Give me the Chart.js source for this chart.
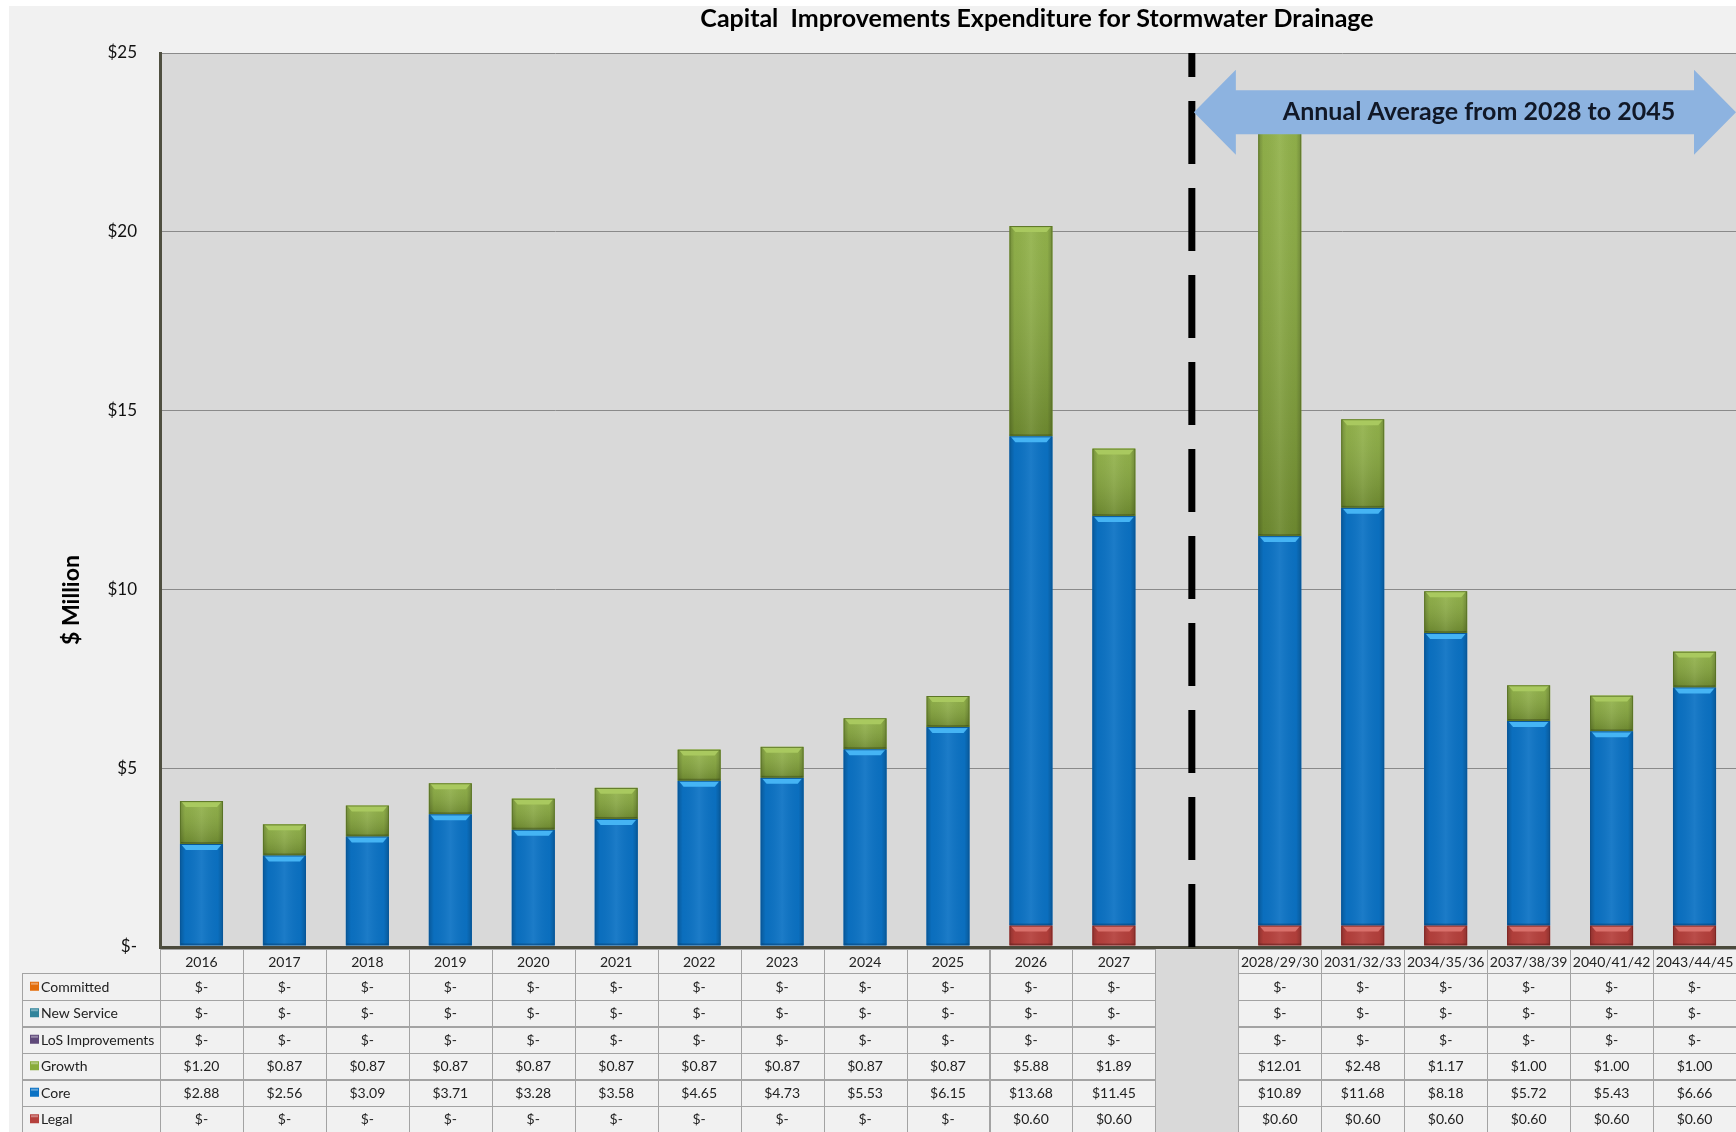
<!DOCTYPE html>
<html>
<head>
<meta charset="utf-8">
<script src="https://cdn.jsdelivr.net/npm/chart.js@4/dist/chart.umd.min.js"></script>
<style>
html,body{margin:0;padding:0;background:#ffffff;}
#c{display:block;}
</style>
</head>
<body>
<canvas id="c" width="1736" height="1132" style="width:1736px;height:1132px"></canvas>
<script>
// ---------------- DATA ----------------
const categories = ['2016','2017','2018','2019','2020','2021','2022','2023','2024','2025','2026','2027','',
  '2028/29/30','2031/32/33','2034/35/36','2037/38/39','2040/41/42','2043/44/45'];
const committed       = [0,0,0,0,0,0,0,0,0,0,0,0,null,0,0,0,0,0,0];
const newService      = [0,0,0,0,0,0,0,0,0,0,0,0,null,0,0,0,0,0,0];
const losImprovements = [0,0,0,0,0,0,0,0,0,0,0,0,null,0,0,0,0,0,0];
const growth = [1.20,0.87,0.87,0.87,0.87,0.87,0.87,0.87,0.87,0.87,5.88,1.89,null,12.01,2.48,1.17,1.00,1.00,1.00];
const core   = [2.88,2.56,3.09,3.71,3.28,3.58,4.65,4.73,5.53,6.15,13.68,11.45,null,10.89,11.68,8.18,5.72,5.43,6.66];
const legal  = [0,0,0,0,0,0,0,0,0,0,0.60,0.60,null,0.60,0.60,0.60,0.60,0.60,0.60];
const yTickValues = [0,5,10,15,20,25];
const gapIndex = 12;
const chartTitle = 'Capital  Improvements Expenditure for Stormwater Drainage';
const yAxisTitle = '$ Million';
const arrowText = 'Annual Average from 2028 to 2045';
const arrowValue = 23.34;   // y value at which the annotation arrow sits

// ---------------- STYLES ----------------
const FONT = 'Lato, "Open Sans", "Liberation Sans", sans-serif';
const colors = {
  'Committed': '#e36c09',
  'New Service': '#31849b',
  'LoS Improvements': '#5f497a',
  'Growth': '#89ac3b',
  'Core': '#0b72c4',
  'Legal': '#b5403c'
};
const shade = {
  'Growth': {bevel:'#a9c95f', edge:'#5a7326', vgrad:true},
  'Core':   {bevel:'#45b4f4', edge:'#08579a', vgrad:false},
  'Legal':  {bevel:'#d9706b', edge:'#7e2624', vgrad:false}
};

function fmt(v){ return (v === 0 || v === null) ? '$-' : '$' + v.toFixed(2); }

// background plugin
const bgPlugin = {
  id:'bgPlugin',
  beforeDraw(chart){
    const {ctx, chartArea:a, width, height} = chart;
    ctx.save();
    ctx.fillStyle = '#ffffff'; ctx.fillRect(0,0,width,height);
    ctx.fillStyle = '#f1f1f1'; ctx.fillRect(9,6,width-9,height-6);
    ctx.fillStyle = '#d9d9d9'; ctx.fillRect(a.left,a.top,a.right-a.left,a.bottom-a.top);
    ctx.restore();
  }
};

// bar shading plugin + dashed divider + arrow
const overlayPlugin = {
  id:'overlayPlugin',
  afterDatasetsDraw(chart){
    const ctx = chart.ctx;
    const a = chart.chartArea;
    chart.data.datasets.forEach((ds, di) => {
      const st = shade[ds.label]; if (!st) return;
      const meta = chart.getDatasetMeta(di);
      meta.data.forEach((bar, i) => {
        const v = ds.data[i]; if (!v) return;
        const p = bar.getProps(['x','y','base','width'], true);
        const l = p.x - p.width/2, r = p.x + p.width/2;
        const t = Math.min(p.y, p.base), b = Math.max(p.y, p.base);
        const h = b - t; if (h < 1) return;
        const w = p.width;
        ctx.save();
        ctx.beginPath(); ctx.rect(l, t, w, h); ctx.clip();
        if (st.vgrad) {
          const vg = ctx.createLinearGradient(0, t, 0, b);
          vg.addColorStop(0, 'rgba(255,255,255,0.08)');
          vg.addColorStop(1, 'rgba(0,0,0,0.20)');
          ctx.fillStyle = vg; ctx.fillRect(l, t, w, h);
        }
        const g = ctx.createLinearGradient(l, 0, r, 0);
        g.addColorStop(0, 'rgba(0,0,0,0.22)');
        g.addColorStop(0.12, 'rgba(0,0,0,0.03)');
        g.addColorStop(0.5, 'rgba(255,255,255,0.07)');
        g.addColorStop(0.88, 'rgba(0,0,0,0.03)');
        g.addColorStop(1, 'rgba(0,0,0,0.22)');
        ctx.fillStyle = g; ctx.fillRect(l, t, w, h);
        const bh = Math.min(6, h/2), inset = 6;
        ctx.fillStyle = st.bevel;
        ctx.beginPath();
        ctx.moveTo(l+1, t); ctx.lineTo(r-1, t); ctx.lineTo(r-inset, t+bh); ctx.lineTo(l+inset, t+bh);
        ctx.closePath(); ctx.fill();
        ctx.fillStyle = 'rgba(0,0,0,0.22)'; ctx.fillRect(l, b-2, w, 2);
        ctx.strokeStyle = st.edge; ctx.lineWidth = 1;
        ctx.strokeRect(l+0.5, t+0.5, w-1, h-1);
        ctx.restore();
      });
    });

    // dashed divider at the gap column
    const xs = chart.scales.x, ys = chart.scales.y;
    const xd = xs.getPixelForValue(gapIndex) - 5;
    ctx.save();
    ctx.strokeStyle = '#000'; ctx.lineWidth = 7;
    ctx.setLineDash([63,24]); ctx.lineDashOffset = 39;
    ctx.beginPath(); ctx.moveTo(xd, a.top); ctx.lineTo(xd, a.bottom); ctx.stroke();
    ctx.restore();

    // double-headed arrow annotation
    const yc = ys.getPixelForValue(arrowValue);
    const headH = 42.5, shaftH = 22, headL = 42;
    const xl = xd + 2, xr = a.right;
    ctx.save();
    ctx.fillStyle = '#8db3e0';
    ctx.beginPath();
    ctx.moveTo(xl, yc);
    ctx.lineTo(xl+headL, yc-headH);
    ctx.lineTo(xl+headL, yc-shaftH);
    ctx.lineTo(xr-headL, yc-shaftH);
    ctx.lineTo(xr-headL, yc-headH);
    ctx.lineTo(xr, yc);
    ctx.lineTo(xr-headL, yc+headH);
    ctx.lineTo(xr-headL, yc+shaftH);
    ctx.lineTo(xl+headL, yc+shaftH);
    ctx.lineTo(xl+headL, yc+headH);
    ctx.closePath(); ctx.fill();
    ctx.fillStyle = '#111827';
    ctx.font = 'bold 25px ' + FONT;
    ctx.textAlign = 'center'; ctx.textBaseline = 'middle';
    ctx.fillText(arrowText, 1479, yc);
    ctx.restore();
  }
};

// titles + data table plugin
const tablePlugin = {
  id:'tablePlugin',
  afterDraw(chart){
    const ctx = chart.ctx;
    const a = chart.chartArea;
    const xs = chart.scales.x;
    const n = categories.length;
    const colW = (a.right - a.left) / n;

    ctx.save();
    // chart title
    ctx.fillStyle = '#000';
    ctx.font = 'bold 25px ' + FONT;
    ctx.textAlign = 'center'; ctx.textBaseline = 'middle';
    ctx.fillText(chartTitle, 1037, 19);
    // y axis title
    ctx.save();
    ctx.translate(72, 600);
    ctx.rotate(-Math.PI/2);
    ctx.font = 'bold 23px ' + FONT;
    ctx.fillText(yAxisTitle, 0, 0);
    ctx.restore();

    const headTop = a.bottom + 2;
    const headH = 24;
    const rowH = 26.5;
    const legendLeft = 22;
    const rows = [
      {name:'Committed', data:committed},
      {name:'New Service', data:newService},
      {name:'LoS Improvements', data:losImprovements},
      {name:'Growth', data:growth},
      {name:'Core', data:core},
      {name:'Legal', data:legal}
    ];
    const tableBottom = headTop + headH + rows.length*rowH;

    // gap column fill
    const gx = xs.getPixelForValue(gapIndex);
    ctx.fillStyle = '#d9d9d9';
    ctx.fillRect(gx - colW/2, headTop, colW, tableBottom - headTop);

    ctx.strokeStyle = '#a3a3a3';
    ctx.lineWidth = 1;
    ctx.font = '14px ' + FONT;
    ctx.fillStyle = '#222';
    ctx.textBaseline = 'middle';

    // header cells
    for (let i = 0; i < n; i++) {
      if (i === gapIndex) continue;
      const cx = xs.getPixelForValue(i);
      const l = cx - colW/2;
      ctx.strokeRect(Math.round(l)+0.5, Math.round(headTop)+0.5, Math.round(colW), headH);
      ctx.textAlign = 'center';
      ctx.fillText(categories[i], cx, headTop + headH/2 + 1);
    }
    // body rows
    rows.forEach((row, ri) => {
      const top = headTop + headH + ri*rowH;
      // legend cell
      ctx.strokeRect(legendLeft + 0.5, Math.round(top)+0.5, Math.round(a.left - legendLeft), Math.round(rowH));
      ctx.fillStyle = colors[row.name];
      ctx.fillRect(legendLeft + 8, top + rowH/2 - 4.5, 9, 9);
      ctx.fillStyle = 'rgba(255,255,255,0.35)';
      ctx.fillRect(legendLeft + 9, top + rowH/2 - 3.5, 7, 2);
      ctx.fillStyle = '#222';
      ctx.textAlign = 'left';
      ctx.fillText(row.name, legendLeft + 19, top + rowH/2 + 1);
      for (let i = 0; i < n; i++) {
        if (i === gapIndex) continue;
        const cx = xs.getPixelForValue(i);
        const l = cx - colW/2;
        ctx.strokeRect(Math.round(l)+0.5, Math.round(top)+0.5, Math.round(colW), Math.round(rowH));
        ctx.textAlign = 'center';
        ctx.fillText(fmt(row.data[i]), cx, top + rowH/2 + 1);
      }
    });
    ctx.restore();
  }
};

Chart.defaults.font.family = FONT;

new Chart(document.getElementById('c'), {
  type: 'bar',
  data: {
    labels: categories,
    datasets: [
      {label:'Legal', data: legal, backgroundColor: colors['Legal']},
      {label:'Core', data: core, backgroundColor: colors['Core']},
      {label:'Growth', data: growth, backgroundColor: colors['Growth']},
      {label:'LoS Improvements', data: losImprovements, backgroundColor: colors['LoS Improvements']},
      {label:'New Service', data: newService, backgroundColor: colors['New Service']},
      {label:'Committed', data: committed, backgroundColor: colors['Committed']}
    ]
  },
  options: {
    responsive: false,
    devicePixelRatio: 1,
    animation: false,
    layout: { padding: { left: 0, right: 0, top: 53, bottom: 185 } },
    datasets: { bar: { categoryPercentage: 1.0, barPercentage: 0.52, borderWidth: 0 } },
    plugins: { legend: { display: false }, tooltip: { enabled: false }, title: { display: false } },
    scales: {
      x: { type: 'category', stacked: true, display: false, offset: true },
      y: {
        stacked: true, min: 0, max: 25,
        afterBuildTicks: (scale) => { scale.ticks = yTickValues.map(v => ({value: v})); },
        afterFit: (scale) => { scale.width = 160; },
        ticks: {
          padding: 23,
          color: '#111',
          font: { size: 17, family: FONT },
          callback: (v) => v === 0 ? '$-' : '$' + v
        },
        grid: {
          drawTicks: false,
          color: (c) => c.tick && c.tick.value === 0 ? '#4a4a3c' : '#8a8a8a',
          lineWidth: (c) => c.tick && c.tick.value === 0 ? 3 : 1
        },
        border: { display: true, color: '#4f4f40', width: 3 }
      }
    }
  },
  plugins: [bgPlugin, overlayPlugin, tablePlugin]
});
</script>
</body>
</html>
